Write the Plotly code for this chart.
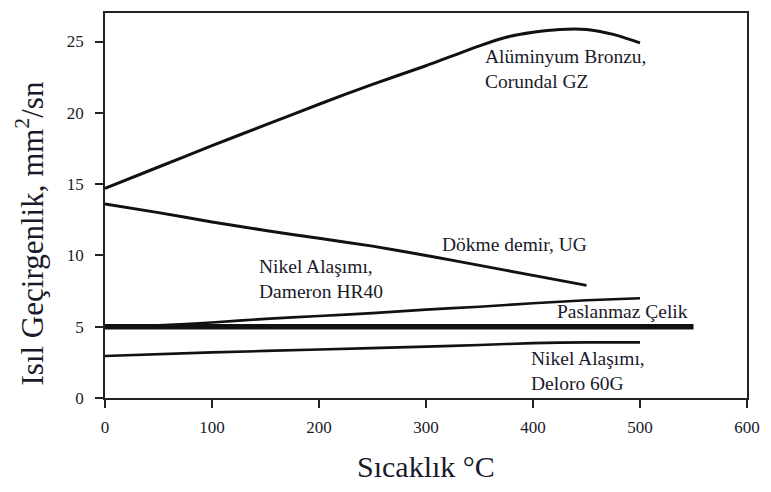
import plotly.graph_objects as go

# Data
al_x = [0, 50, 100, 150, 200, 250, 300, 350, 375, 400, 425, 450, 475, 500]
al_y = [14.7, 16.2, 17.7, 19.15, 20.6, 22.0, 23.3, 24.7, 25.3, 25.65, 25.85, 25.85, 25.5, 24.9]

ug_x = [0, 50, 100, 150, 200, 250, 300, 350, 400, 450]
ug_y = [13.6, 13.0, 12.35, 11.75, 11.2, 10.65, 10.0, 9.3, 8.6, 7.9]

hr40_x = [0, 50, 100, 150, 200, 250, 300, 350, 400, 450, 500]
hr40_y = [5.0, 5.1, 5.3, 5.55, 5.75, 5.95, 6.2, 6.4, 6.65, 6.85, 7.0]

ss_x = [0, 550]
ss_y = [5.0, 5.0]

dl_x = [0, 100, 200, 300, 350, 400, 450, 500]
dl_y = [2.95, 3.2, 3.4, 3.6, 3.72, 3.85, 3.9, 3.9]

x_ticks = [0, 100, 200, 300, 400, 500, 600]
y_ticks = [0, 5, 10, 15, 20, 25]

labels = [
    ("Alüminyum Bronzu,<br>Corundal GZ", 353.5, 23.06),
    ("Dökme demir, UG", 312.8, 10.8),
    ("Nikel Alaşımı,<br>Dameron HR40", 141.9, 8.37),
    ("Paslanmaz Çelik", 421, 6.07),
    ("Nikel Alaşımı,<br>Deloro 60G", 396, 1.88),
]

FONT = "'Liberation Serif', 'Times New Roman', Times, serif"
LC = "#111111"
TC = "#1a1a2a"

fig = go.Figure()
for xs, ys, w in [(al_x, al_y, 3), (ug_x, ug_y, 3), (hr40_x, hr40_y, 2.6),
                  (dl_x, dl_y, 2.6), (ss_x, ss_y, 5.5)]:
    fig.add_trace(go.Scatter(x=xs, y=ys, mode="lines",
                             line=dict(color=LC, width=w, shape="spline", smoothing=0.6),
                             showlegend=False, hoverinfo="skip"))

for txt, x, y in labels:
    fig.add_annotation(x=x, y=y, text=txt, showarrow=False, xanchor="left",
                       yanchor="middle", align="left",
                       font=dict(family=FONT, size=19.5, color=TC))

fig.add_annotation(xref="paper", yref="paper", x=0.5, y=0, yshift=-68,
                   text="Sıcaklık °C", showarrow=False, xanchor="center", yanchor="middle",
                   font=dict(family=FONT, size=30, color=TC))
fig.add_annotation(xref="paper", yref="paper", x=0, xshift=-75, y=0.5, yshift=-28,
                   text="Isıl Geçirgenlik, mm<sup>2</sup>/sn", showarrow=False, textangle=-90,
                   xanchor="center", yanchor="middle",
                   font=dict(family=FONT, size=31, color=TC))

axis_common = dict(showgrid=False, zeroline=False, showline=True, linecolor="#222222",
                   linewidth=1.5, mirror=True, ticks="outside", ticklen=8, tickwidth=1.5,
                   tickcolor="#222222", tickfont=dict(family=FONT, size=17, color=TC))

fig.update_xaxes(range=[0, 600], tickvals=x_ticks, ticklabelstandoff=5, **axis_common)
fig.update_yaxes(range=[0, 27], tickvals=y_ticks, ticklabelstandoff=8, **axis_common)

fig.update_layout(width=771, height=492, margin=dict(l=104.5, r=17.5, t=11, b=94),
                  font=dict(family=FONT),
                  plot_bgcolor="white", paper_bgcolor="white")

fig.write_html("out.html")
